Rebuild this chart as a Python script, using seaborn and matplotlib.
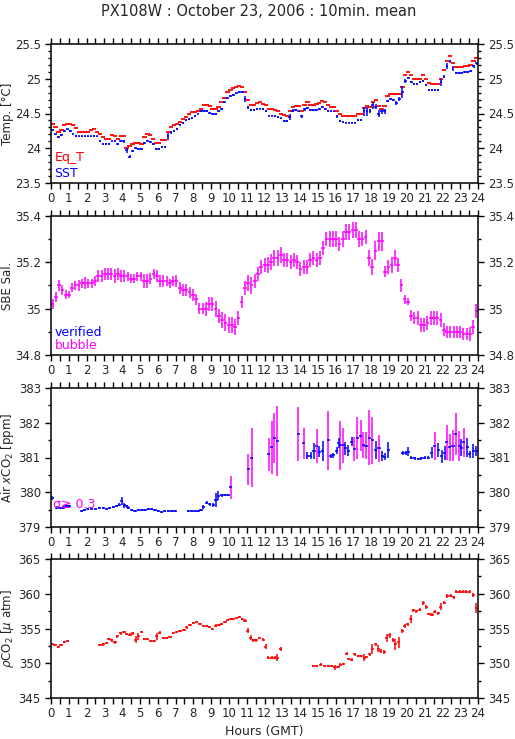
import numpy as np
import matplotlib
matplotlib.use('Agg')
import matplotlib.pyplot as plt
from matplotlib.ticker import MultipleLocator, FormatStrFormatter
import seaborn as sns

sns.set_theme(style='ticks')
plt.rcParams['font.family'] = ['DejaVu Sans']
plt.rcParams['mathtext.fontset'] = 'dejavusans'

RED, BLUE, MAG = '#ff0000', '#0000ff', '#ff00ff'

# ---- panel 1: temperature, 10-min bins ----
eq_t = [24.35, 24.30, 24.23, 24.26, 24.33, 24.35, 24.35, 24.33, 24.29, 24.23, 24.24, 24.24,
        24.24, 24.26, 24.27, 24.24, 24.20, 24.16, 24.14, 24.14, 24.19, 24.18, 24.14, 24.18,
        24.18, 24.00, 24.03, 24.06, 24.08, 24.07, 24.06, 24.16, 24.20, 24.19, 24.14, 24.07,
        24.07, 24.12, 24.12, 24.23, 24.31, 24.34, 24.35, 24.38, 24.42, 24.45, 24.49, 24.52,
        24.52, 24.54, 24.57, 24.62, 24.62, 24.61, 24.56, 24.57, 24.60, 24.66, 24.73, 24.81,
        24.84, 24.86, 24.88, 24.90, 24.88, 24.81, 24.69, 24.62, 24.62, 24.65, 24.67, 24.64,
        24.62, 24.56, 24.56, 24.55, 24.53, 24.50, 24.48, 24.46, 24.53, 24.60, 24.61, 24.61,
        24.54, 24.62, 24.66, 24.62, 24.62, 24.63, 24.65, 24.68, 24.66, 24.62, 24.60, 24.59,
        24.54, 24.49, 24.46, 24.47, 24.46, 24.46, 24.46, 24.49, 24.49, 24.58, 24.61, 24.59,
        24.67, 24.70, 24.61, 24.57, 24.61, 24.75, 24.78, 24.78, 24.78, 24.78, 24.88, 25.05,
        25.09, 25.05, 25.00, 24.99, 25.00, 25.05, 25.00, 24.94, 24.92, 24.93, 24.93, 25.00,
        25.12, 25.26, 25.33, 25.22, 25.17, 25.17, 25.17, 25.18, 25.19, 25.20, 25.26, 25.30]

sst = [24.26, 24.20, 24.16, 24.19, 24.25, 24.27, 24.25, 24.21, 24.18, 24.17, 24.17, 24.17,
       24.17, 24.17, 24.18, 24.17, 24.10, 24.06, 24.06, 24.06, 24.11, 24.10, 24.06, 24.10,
       24.10, 23.97, 23.88, 23.96, 24.00, 23.99, 23.99, 24.08, 24.11, 24.09, 24.06, 23.99,
       23.99, 24.02, 24.02, 24.17, 24.23, 24.25, 24.28, 24.34, 24.36, 24.41, 24.42, 24.43,
       24.46, 24.50, 24.54, 24.54, 24.54, 24.51, 24.49, 24.49, 24.54, 24.57, 24.66, 24.72,
       24.75, 24.77, 24.79, 24.81, 24.81, 24.71, 24.59, 24.55, 24.55, 24.56, 24.57, 24.56,
       24.54, 24.47, 24.47, 24.46, 24.45, 24.43, 24.39, 24.39, 24.45, 24.54, 24.55, 24.53,
       24.46, 24.56, 24.58, 24.55, 24.55, 24.55, 24.56, 24.59, 24.56, 24.54, 24.53, 24.53,
       24.46, 24.39, 24.38, 24.37, 24.37, 24.37, 24.37, 24.41, 24.41, 24.53, 24.53, 24.54,
       24.62, 24.60, 24.50, 24.53, 24.53, 24.68, 24.71, 24.70, 24.65, 24.71, 24.81, 24.97,
       25.01, 24.95, 24.92, 24.92, 24.95, 24.97, 24.91, 24.84, 24.84, 24.84, 24.84, 24.95,
       25.03, 25.18, 25.25, 25.15, 25.08, 25.08, 25.08, 25.10, 25.10, 25.11, 25.18, 25.22]

sst_err = [.015, .012, .012, .012, .012, .012, .012, .012, .012, .01, .01, .01,
           .01, .01, .012, .01, .015, .012, .01, .01, .012, .012, .012, .015,
           .02, .04, .02, .015, .012, .01, .01, .012, .012, .012, .012, .012,
           .01, .015, .015, .05, .02, .015, .012, .012, .012, .012, .012, .012,
           .012, .012, .012, .012, .012, .012, .012, .012, .015, .015, .015, .012,
           .012, .012, .012, .012, .015, .04, .02, .012, .012, .012, .012, .012,
           .012, .012, .012, .012, .012, .012, .012, .012, .04, .02, .012, .012,
           .02, .02, .012, .012, .012, .012, .012, .012, .012, .012, .012, .012,
           .02, .015, .012, .012, .012, .012, .012, .015, .015, .06, .06, .03,
           .05, .03, .05, .04, .04, .02, .015, .015, .03, .03, .08, .03,
           .02, .015, .015, .015, .015, .015, .02, .012, .012, .012, .012, .05,
           .02, .04, .02, .04, .015, .012, .012, .012, .012, .015, .02, .015]

# ---- panel 2: SBE salinity (all flagged bubble) ----
sal = [35.02, 35.05, 35.10, 35.08, 35.06, 35.06, 35.09, 35.10, 35.10, 35.11, 35.11, 35.11,
       35.11, 35.12, 35.14, 35.14, 35.15, 35.15, 35.15, 35.14, 35.15, 35.14, 35.14, 35.14,
       35.13, 35.13, 35.14, 35.14, 35.12, 35.12, 35.13, 35.15, 35.14, 35.12, 35.12, 35.12,
       35.11, 35.12, 35.12, 35.09, 35.08, 35.08, 35.07, 35.06, 35.04, 35.00, 35.00, 35.00,
       35.02, 35.02, 35.00, 34.97, 34.95, 34.94, 34.93, 34.93, 34.92, 34.96, 35.03, 35.09,
       35.11, 35.10, 35.12, 35.15, 35.18, 35.19, 35.19, 35.20, 35.22, 35.22, 35.23, 35.21,
       35.21, 35.20, 35.21, 35.20, 35.17, 35.18, 35.18, 35.21, 35.22, 35.21, 35.22, 35.26,
       35.30, 35.30, 35.30, 35.30, 35.28, 35.30, 35.33, 35.33, 35.34, 35.34, 35.30, 35.30,
       35.31, 35.22, 35.18, 35.25, 35.29, 35.29, 35.16, 35.18, 35.19, 35.22, 35.19, 35.10,
       35.04, 35.03, 34.97, 34.96, 34.96, 34.93, 34.93, 34.94, 34.96, 34.96, 34.96, 34.95,
       34.91, 34.90, 34.90, 34.90, 34.90, 34.90, 34.89, 34.89, 34.89, 34.92, 34.99]

sal_err = [.02, .02, .025, .02, .02, .015, .02, .02, .025, .02, .025, .02,
           .02, .02, .025, .025, .025, .025, .025, .03, .025, .025, .025, .02,
           .02, .02, .02, .02, .03, .03, .025, .02, .025, .025, .025, .02,
           .02, .02, .025, .025, .025, .025, .025, .025, .025, .025, .025, .03,
           .03, .03, .035, .03, .035, .035, .035, .035, .035, .03, .025, .03,
           .035, .035, .03, .03, .03, .03, .035, .035, .035, .035, .035, .03,
           .03, .03, .03, .03, .03, .03, .03, .03, .03, .03, .03, .03,
           .03, .035, .035, .035, .03, .035, .035, .035, .035, .035, .035, .03,
           .03, .035, .035, .04, .04, .04, .025, .03, .035, .035, .03, .03,
           .02, .015, .025, .025, .03, .03, .03, .03, .03, .03, .03, .03,
           .03, .025, .025, .025, .025, .025, .025, .025, .03, .03, .03]

# ---- panel 3: air xCO2 ----
air_hours = [0.07, 0.32, 0.51, 0.69, 0.84, 1.01,
             1.72, 1.87, 2.06, 2.28, 2.51, 2.72, 2.94, 3.13, 3.31, 3.50,
             3.69, 3.84, 3.97, 4.12, 4.25, 4.34, 4.53, 4.72, 4.91, 5.09,
             5.28, 5.47, 5.66, 5.84, 6.03, 6.22, 6.40, 6.59, 6.78, 6.97,
             7.72, 7.90, 8.09, 8.28, 8.43, 8.56, 8.75, 8.93, 9.12, 9.27,
             9.40, 9.59, 9.78, 9.96, 10.09,
             11.09, 11.27,
             12.23, 12.40, 12.55, 12.73,
             13.90, 14.21, 14.40, 14.59, 14.78, 14.93, 15.07, 15.26, 15.58, 15.71,
             15.86, 16.05, 16.16, 16.27, 16.42, 16.55, 16.70, 16.89, 17.04, 17.21,
             17.40, 17.55, 17.70, 17.88, 18.05, 18.24, 18.43, 18.61, 18.76, 18.95,
             19.76, 19.94, 20.07, 20.26, 20.45, 20.64, 20.82, 21.01, 21.20, 21.39,
             21.57, 21.76, 21.95, 22.13, 22.23, 22.42, 22.60, 22.75, 22.94, 23.07,
             23.20, 23.39, 23.54, 23.73, 23.91]
air_co2 = [379.84, 379.56, 379.54, 379.56, 379.61, 379.60,
           379.45, 379.49, 379.52, 379.52, 379.52, 379.54, 379.54, 379.53, 379.55, 379.58,
           379.60, 379.64, 379.74, 379.62, 379.59, 379.56, 379.49, 379.46, 379.49, 379.49,
           379.49, 379.51, 379.51, 379.49, 379.46, 379.44, 379.45, 379.45, 379.45, 379.45,
           379.45, 379.45, 379.47, 379.45, 379.49, 379.58, 379.70, 379.65, 379.63, 379.78,
           379.90, 379.91, 379.91, 379.91, 380.14,
           380.66, 381.00,
           381.09, 381.29, 381.55, 381.47,
           381.67, 381.41, 381.05, 381.05, 381.19, 381.33, 381.17, 381.19, 381.50, 381.04,
           381.06, 381.19, 381.42, 381.35, 381.35, 381.26, 381.20, 381.46, 381.24, 381.57,
           381.63, 381.36, 381.34, 381.57, 381.49, 381.22, 381.26, 381.04, 381.02, 381.22,
           381.12, 381.12, 381.17, 381.00, 380.98, 380.96, 380.98, 381.00, 381.00, 381.14,
           381.33, 381.22, 381.03, 381.12, 381.44, 381.29, 381.34, 381.67, 381.33, 381.28,
           381.44, 381.29, 381.09, 381.20, 381.19]
air_err = [0.05, 0.04, 0.03, 0.03, 0.04, 0.03,
           0.03, 0.03, 0.03, 0.03, 0.03, 0.03, 0.03, 0.03, 0.03, 0.03,
           0.03, 0.04, 0.12, 0.06, 0.04, 0.03, 0.03, 0.03, 0.03, 0.03,
           0.03, 0.03, 0.03, 0.03, 0.03, 0.03, 0.03, 0.03, 0.03, 0.03,
           0.03, 0.03, 0.03, 0.03, 0.04, 0.06, 0.05, 0.05, 0.06, 0.20,
           0.13, 0.04, 0.03, 0.03, 0.33,
           0.45, 0.85,
           0.48, 0.77, 0.72, 1.00,
           0.77, 0.45, 0.10, 0.10, 0.22, 0.50, 0.15, 0.28, 0.85, 0.06,
           0.06, 0.10, 0.15, 0.70, 0.50, 0.20, 0.15, 0.12, 0.35, 0.60,
           0.45, 0.38, 0.38, 0.80, 0.68, 0.25, 0.40, 0.14, 0.10, 0.22,
           0.06, 0.06, 0.12, 0.05, 0.04, 0.04, 0.04, 0.04, 0.04, 0.15,
           0.40, 0.20, 0.20, 0.20, 0.50, 0.40, 0.45, 0.60, 0.42, 0.25,
           0.42, 0.28, 0.10, 0.20, 0.15]
sigma_limit = 0.3

# ---- panel 4: pCO2 ----
pco2_hours = [0.07, 0.22, 0.41, 0.56, 0.75, 0.94,
              2.75, 2.94, 3.13, 3.26, 3.41, 3.60, 3.73, 3.91, 4.10, 4.25,
              4.44, 4.59, 4.76, 4.91, 5.09, 5.24, 5.41, 5.60, 5.79, 5.94,
              6.12, 6.31, 6.50, 6.69, 6.87, 7.06, 7.25, 7.47, 7.62, 7.81,
              8.00, 8.18, 8.37, 8.56, 8.75, 8.90, 9.06, 9.25, 9.44, 9.59,
              9.78, 9.93, 10.09, 10.24, 10.43, 10.58, 10.75, 10.90, 11.05, 11.22,
              11.37, 11.52, 11.70, 11.93, 12.06, 12.21, 12.40, 12.58, 12.73, 12.92,
              14.74, 14.93, 15.15, 15.39, 15.58, 15.77, 15.96, 16.14, 16.27, 16.42,
              16.61, 16.74, 16.89, 17.08, 17.27, 17.45, 17.60, 17.73, 17.92, 18.07,
              18.24, 18.39, 18.54, 18.73, 18.86, 19.04, 19.23, 19.36, 19.55, 19.74,
              19.89, 20.04, 20.21, 20.36, 20.54, 20.73, 20.92, 21.10, 21.25, 21.42,
              21.57, 21.76, 21.91, 22.10, 22.28, 22.47, 22.64, 22.79, 22.98, 23.16,
              23.35, 23.54, 23.73, 23.91]
pco2 = [352.8, 352.6, 352.4, 352.6, 353.0, 353.2,
        352.6, 352.7, 352.9, 353.5, 353.3, 353.0, 353.9, 354.3, 354.5, 354.2,
        354.1, 354.3, 353.4, 353.9, 354.5, 353.5, 353.5, 353.2, 353.2, 353.9,
        354.4, 353.6, 353.6, 353.8, 354.3, 354.5, 354.7, 354.8, 355.2, 355.5,
        355.8, 355.9, 355.7, 355.4, 355.3, 355.2, 354.9, 355.4, 355.5, 355.7,
        355.9, 356.2, 356.4, 356.4, 356.5, 356.7, 356.4, 356.1, 354.7, 353.7,
        353.3, 353.3, 353.6, 353.4, 352.4, 350.8, 350.8, 350.8, 350.8, 352.0,
        349.6, 349.6, 349.8, 349.6, 349.6, 349.6, 349.4, 349.5, 349.8, 349.9,
        351.4, 350.6, 350.5, 351.3, 351.1, 351.1, 350.8, 350.9, 351.3, 352.1,
        352.7, 352.1, 351.8, 351.6, 353.6, 354.0, 353.3, 352.7, 353.0, 354.7,
        355.4, 355.6, 356.4, 357.6, 357.5, 357.7, 358.7, 358.1, 357.1, 357.0,
        357.4, 357.2, 358.1, 358.7, 359.7, 359.7, 359.5, 360.3, 360.3, 360.3,
        360.3, 360.3, 359.8, 358.0]
pco2_err = [0.15, 0.15, 0.15, 0.15, 0.15, 0.15,
            0.15, 0.15, 0.2, 0.2, 0.2, 0.2, 0.2, 0.2, 0.2, 0.15,
            0.2, 0.2, 0.5, 0.5, 0.2, 0.15, 0.15, 0.15, 0.15, 0.5,
            0.2, 0.15, 0.15, 0.15, 0.15, 0.15, 0.15, 0.15, 0.2, 0.15,
            0.15, 0.15, 0.15, 0.15, 0.15, 0.15, 0.15, 0.2, 0.2, 0.15,
            0.15, 0.15, 0.15, 0.15, 0.15, 0.15, 0.15, 0.2, 0.4, 0.3,
            0.2, 0.2, 0.15, 0.2, 0.3, 0.2, 0.2, 0.2, 0.5, 0.3,
            0.15, 0.15, 0.2, 0.15, 0.15, 0.15, 0.4, 0.15, 0.2, 0.2,
            0.2, 0.2, 0.2, 0.2, 0.15, 0.15, 0.5, 0.2, 0.2, 0.7,
            0.2, 0.5, 0.3, 0.3, 0.6, 0.3, 0.3, 0.8, 0.8, 0.3,
            0.3, 0.2, 0.6, 0.2, 0.2, 0.2, 0.3, 0.3, 0.2, 0.2,
            0.2, 0.2, 0.5, 0.2, 0.3, 0.2, 0.2, 0.2, 0.2, 0.2,
            0.2, 0.2, 0.3, 0.7]

t144 = (np.arange(len(sst)) + 0.5) / 6.0
t_sal = (np.arange(len(sal)) + 0.5) * 24.0 / len(sal)

W, H = 515, 739
LW = 1.1
FS = 8.5
fig = plt.figure(figsize=(W / 100, H / 100), dpi=100)
fig.patch.set_facecolor('white')


def add_panel(top, bottom):
    return fig.add_axes([51 / W, 1 - bottom / H, 427 / W, (bottom - top) / H])


def style(ax, ylim, major, minor, fmt):
    ax.set_xlim(0, 24)
    ax.set_ylim(*ylim)
    ax.set_facecolor('white')
    ax.grid(False)
    for s in ax.spines.values():
        s.set_color('black')
        s.set_linewidth(1.1)
    ax.xaxis.set_major_locator(MultipleLocator(1))
    ax.xaxis.set_minor_locator(MultipleLocator(0.5))
    ax.xaxis.set_major_formatter(FormatStrFormatter('%d'))
    ax.yaxis.set_major_locator(MultipleLocator(major))
    ax.yaxis.set_minor_locator(MultipleLocator(minor))
    ax.yaxis.set_major_formatter(FormatStrFormatter(fmt))
    ax.tick_params(axis='x', which='both', top=True, bottom=True, direction='out',
                   length=4.3, width=1, color='black', labelsize=FS, pad=2.5)
    ax.tick_params(axis='y', which='both', left=True, right=True, labelleft=True,
                   labelright=True, direction='out', width=1, color='black',
                   labelsize=FS, pad=3)
    ax.tick_params(axis='y', which='major', length=4.3)
    ax.tick_params(axis='y', which='minor', length=2.2)


def ylabel(text, top, bottom):
    fig.text(8 / W, 1 - (top + bottom) / 2 / H, text, rotation=90,
             ha='center', va='center', fontsize=FS)


# panel 1
ax1 = add_panel(44, 183)
ax1.errorbar(t144, eq_t, xerr=0.12, fmt='none', ecolor=RED, elinewidth=LW + 0.2)
ax1.errorbar(t144, sst, xerr=0.07, yerr=sst_err, fmt='none', ecolor=BLUE, elinewidth=LW)
style(ax1, (23.5, 25.5), 0.5, 0.1, '%g')
ax1.text(0.008, 0.18, 'Eq_T', color=RED, fontsize=9, transform=ax1.transAxes, va='center')
ax1.text(0.008, 0.07, 'SST', color=BLUE, fontsize=9, transform=ax1.transAxes, va='center')
ylabel('Temp. [°C]', 44, 183)

# panel 2
ax2 = add_panel(216, 355)
ax2.errorbar(t_sal, sal, xerr=0.1, yerr=sal_err, fmt='none', ecolor=MAG, elinewidth=LW)
style(ax2, (34.8, 35.4), 0.2, 0.1, '%g')
ax2.text(0.008, 0.165, 'verified', color=BLUE, fontsize=9, transform=ax2.transAxes, va='center')
ax2.text(0.008, 0.07, 'bubble', color=MAG, fontsize=9, transform=ax2.transAxes, va='center')
ylabel('SBE Sal.', 216, 355)

# panel 3
ax3 = add_panel(388, 527)
ah = np.array(air_hours)
ac = np.array(air_co2)
ae = np.array(air_err)
big = ae >= sigma_limit
ax3.errorbar(ah[big], ac[big], yerr=ae[big], fmt='none', ecolor=MAG, elinewidth=LW)
ax3.errorbar(ah[~big], ac[~big], yerr=ae[~big], fmt='none', ecolor=BLUE, elinewidth=LW)
ax3.errorbar(ah, ac, xerr=0.09, fmt='none', ecolor=BLUE, elinewidth=LW)
style(ax3, (379, 383), 1, 0.5, '%d')
ax3.text(0.005, 0.165, '\u03c3\u2265 0.3', color=MAG, fontsize=9, transform=ax3.transAxes, va='center')
ylabel(r'Air $x$CO$_2$ [ppm]', 388, 527)

# panel 4
ax4 = add_panel(559, 698)
ax4.errorbar(pco2_hours, pco2, xerr=0.09, yerr=pco2_err, fmt='none', ecolor=RED, elinewidth=LW)
style(ax4, (345, 365), 5, 2.5, '%d')
ylabel(r'$\rho$CO$_2$ [$\mu$ atm]', 559, 698)
ax4.set_xlabel('Hours (GMT)', fontsize=9, labelpad=3)

fig.text(0.503, 1 - 12 / H, 'PX108W : October 23, 2006 : 10min. mean',
         ha='center', va='center', fontsize=10.5)

fig.savefig('out.png', dpi=100)
